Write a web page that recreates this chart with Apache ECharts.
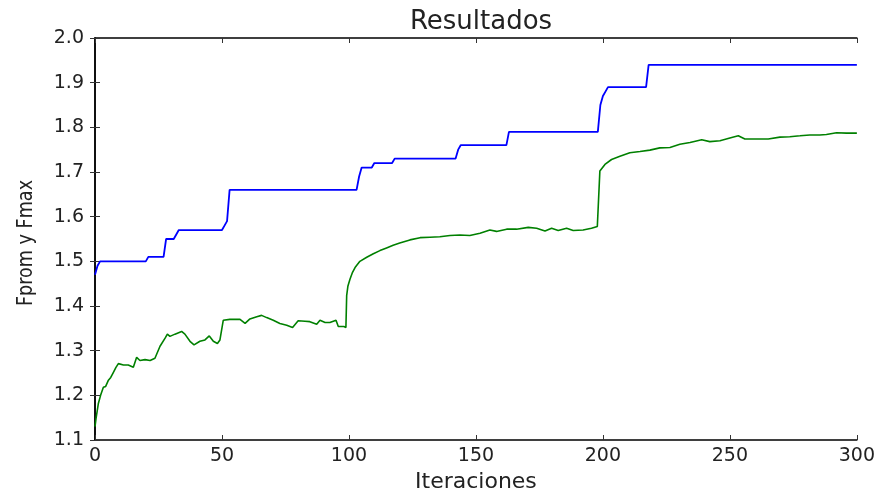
<!DOCTYPE html>
<html>
<head>
<meta charset="utf-8">
<script src="https://cdn.jsdelivr.net/npm/echarts@6/dist/echarts.min.js"></script>
<style>
html,body{margin:0;padding:0;background:#fff;}
#chart{width:878px;height:498px;}
</style>
</head>
<body>
<div id="chart"></div>
<script>
// Fmax (blue) — corner points of the step curve [iteration, value]
var fmaxIter = [0,1,2,20,21,27,28,31,32,33,50,51,52,53,103,104,105,109,110,117,118,142,143,144,162,163,198,199,200,201,202,217,218,300];
var fmaxVal  = [1.47,1.49,1.50,1.50,1.51,1.51,1.55,1.55,1.56,1.57,1.57,1.58,1.59,1.66,1.66,1.69,1.71,1.71,1.72,1.72,1.73,1.73,1.75,1.76,1.76,1.79,1.79,1.85,1.87,1.88,1.89,1.89,1.94,1.94];

// Fprom (green) — [iteration, value]
var fpromIter = [0,0.4,1.3,2.2,3.3,4.2,5.2,6.2,7.2,8.2,9.2,11.2,13.1,15.1,16.4,17.7,19.7,21.7,23.6,25.6,27.6,28.5,29.5,31.5,34.1,35.4,37.4,39,41.3,43.3,45,46.6,48.2,49.2,50.5,53.1,57.1,59.1,61,63.7,65.6,67.6,70.2,72.8,75.5,77.8,80,82.7,84.6,87.3,88.6,90.6,92.5,94.9,95.8,98,98.8,99.1,99.6,100.4,101.3,102.4,104.3,107,109.6,112.2,114.8,117.4,120,124,128,131.9,135.8,139.8,143.7,147.6,151.6,155.5,158.1,162.1,166,170.6,173.9,177.2,179.8,182.4,185.7,188.3,192.2,195.5,197.8,198.8,200.8,203.4,206.7,210.6,214.6,218.5,222.4,226.4,230.3,234.3,238.9,242.1,246.1,250,253.3,255.9,260.5,265.1,269.7,273.6,277.6,281.5,285.4,288,292,295.9,300];
var fpromVal  = [1.13,1.148,1.181,1.20,1.218,1.22,1.233,1.24,1.251,1.262,1.271,1.268,1.268,1.263,1.285,1.278,1.280,1.278,1.283,1.310,1.328,1.337,1.332,1.337,1.343,1.337,1.321,1.313,1.321,1.324,1.333,1.321,1.316,1.324,1.368,1.370,1.370,1.361,1.371,1.376,1.379,1.374,1.368,1.361,1.357,1.352,1.367,1.366,1.365,1.359,1.368,1.363,1.363,1.368,1.354,1.354,1.352,1.423,1.445,1.460,1.474,1.486,1.500,1.509,1.517,1.524,1.530,1.536,1.541,1.548,1.553,1.554,1.555,1.558,1.559,1.558,1.563,1.570,1.567,1.572,1.572,1.576,1.574,1.568,1.574,1.569,1.574,1.569,1.570,1.574,1.578,1.702,1.717,1.728,1.735,1.743,1.746,1.749,1.754,1.755,1.762,1.766,1.772,1.768,1.770,1.776,1.781,1.774,1.774,1.774,1.778,1.779,1.781,1.783,1.783,1.784,1.788,1.787,1.787];

var xTicks = [0,50,100,150,200,250,300];
var yTicks = ['1.1','1.2','1.3','1.4','1.5','1.6','1.7','1.8','1.9','2.0'];
var titleText = 'Resultados';
var xName = 'Iteraciones';
var yName = 'Fprom y Fmax';

function pairs(xs, ys){ var out=[]; for(var i=0;i<xs.length;i++){ out.push([xs[i], ys[i]]); } return out; }

var FONT = 'DejaVu Sans';
var chart = echarts.init(document.getElementById('chart'), null, {renderer:'canvas'});
var axisLine = {show:true, lineStyle:{color:'#000', width:1.5}};
var axisTick = {show:true, inside:true, length:5, lineStyle:{color:'#333', width:1}};

chart.setOption({
  animation:false,
  backgroundColor:'#fff',
  title:{
    text:titleText, left:476, top:4, textAlign:'center',
    textStyle:{fontFamily:FONT, fontSize:26, fontWeight:'normal', color:'#222'}
  },
  graphic:[{
    type:'text', x:26, y:243, rotation:Math.PI/2, scaleX:0.8, scaleY:1,
    style:{text:yName, font:'22px "DejaVu Sans"', fill:'#222', textAlign:'center', textVerticalAlign:'middle'}
  }],
  grid:{left:95, right:21, top:38, bottom:51, containLabel:false},
  xAxis:[{
    type:'value', min:xTicks[0], max:xTicks[xTicks.length-1], interval:50,
    name:xName, nameLocation:'middle', nameGap:31,
    nameTextStyle:{fontFamily:FONT, fontSize:22, color:'#222'},
    axisLine:axisLine, axisTick:axisTick, splitLine:{show:false},
    axisLabel:{fontFamily:FONT, fontSize:19, color:'#222', margin:7}
  },{
    type:'value', position:'top', min:xTicks[0], max:xTicks[xTicks.length-1], interval:50,
    axisLine:axisLine, axisTick:axisTick, splitLine:{show:false}, axisLabel:{show:false}
  }],
  yAxis:[{
    type:'value', min:1.1, max:2.0, interval:0.1,
    axisLine:axisLine, axisTick:axisTick, splitLine:{show:false},
    axisLabel:{fontFamily:FONT, fontSize:19, color:'#222', margin:11,
      formatter:function(v){ var s=v.toFixed(1); return yTicks.indexOf(s)>=0 ? s : ''; }}
  },{
    type:'value', position:'right', min:1.1, max:2.0, interval:0.1,
    axisLine:axisLine, axisTick:axisTick, splitLine:{show:false}, axisLabel:{show:false}
  }],
  series:[{
    name:'Fmax', type:'line', data:pairs(fmaxIter, fmaxVal), showSymbol:false,
    lineStyle:{color:'#0000ff', width:1.8}, itemStyle:{color:'#0000ff'}
  },{
    name:'Fprom', type:'line', data:pairs(fpromIter, fpromVal), showSymbol:false,
    lineStyle:{color:'#008000', width:1.6}, itemStyle:{color:'#008000'}
  }]
});
</script>
</body>
</html>
